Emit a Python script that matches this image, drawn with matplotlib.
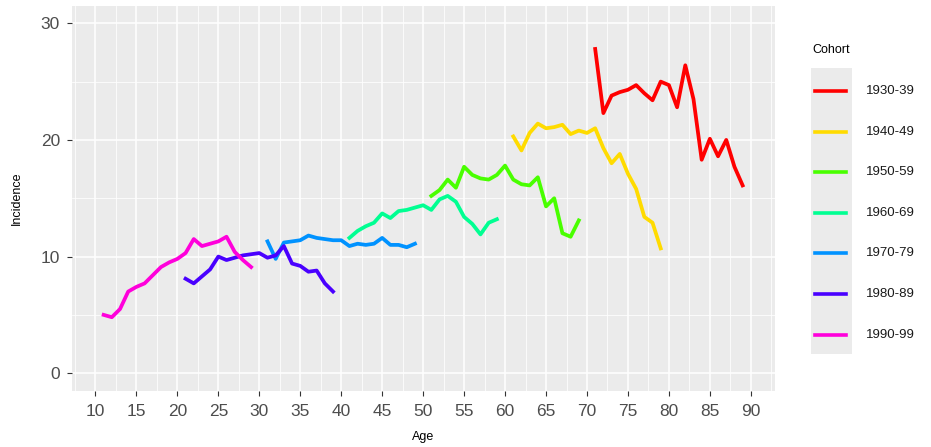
import matplotlib.pyplot as plt
from matplotlib.lines import Line2D
from matplotlib.patches import Rectangle
import numpy as np

plt.rcParams['font.family'] = ['Liberation Sans', 'DejaVu Sans']

cohorts = ['1930-39', '1940-49', '1950-59', '1960-69', '1970-79', '1980-89', '1990-99']
colors = ['#FF0000', '#FFDB00', '#49FF00', '#00FF92', '#0092FF', '#4900FF', '#FF00DB']
start_age = [71, 61, 51, 41, 31, 21, 11]

inc_1930 = [27.8, 22.3, 23.8, 24.1, 24.3, 24.7, 24.0, 23.4, 25.0, 24.7,
            22.8, 26.4, 23.5, 18.3, 20.1, 18.6, 20.0, 17.7, 16.1]
inc_1940 = [20.3, 19.1, 20.6, 21.4, 21.0, 21.1, 21.3, 20.5, 20.8, 20.6,
            21.0, 19.3, 18.0, 18.8, 17.1, 15.8, 13.4, 12.9, 10.7]
inc_1950 = [15.2, 15.7, 16.6, 15.9, 17.7, 17.0, 16.7, 16.6, 17.0, 17.8,
            16.6, 16.2, 16.1, 16.8, 14.3, 15.0, 12.0, 11.7, 13.1]
inc_1960 = [11.6, 12.2, 12.6, 12.9, 13.7, 13.3, 13.9, 14.0, 14.2, 14.4,
            14.0, 14.9, 15.2, 14.7, 13.4, 12.8, 11.9, 12.9, 13.2]
inc_1970 = [11.3, 9.8, 11.2, 11.3, 11.4, 11.8, 11.6, 11.5, 11.4, 11.4,
            10.9, 11.1, 11.0, 11.1, 11.6, 11.0, 11.0, 10.8, 11.1]
inc_1980 = [8.1, 7.7, 8.3, 8.9, 10.0, 9.7, 9.9, 10.1, 10.2, 10.3,
            9.9, 10.1, 10.9, 9.4, 9.2, 8.7, 8.8, 7.7, 7.0]
inc_1990 = [5.0, 4.8, 5.5, 7.0, 7.4, 7.7, 8.4, 9.1, 9.5, 9.8,
            10.3, 11.5, 10.9, 11.1, 11.3, 11.7, 10.4, 9.7, 9.1]
series = [inc_1930, inc_1940, inc_1950, inc_1960, inc_1970, inc_1980, inc_1990]

fig = plt.figure(figsize=(9.31, 4.47), dpi=100)
ax = fig.add_axes([0.077, 0.126, 0.755, 0.861])
ax.set_facecolor('#EBEBEB')

for lab, col, a0, vals in zip(cohorts, colors, start_age, series):
    ages = np.arange(a0, a0 + len(vals))
    ax.plot(ages, vals, color=col, lw=2.7, solid_joinstyle='round', label=lab, zorder=3)

ax.set_xlim(7.1, 92.9)
ax.set_ylim(-1.5, 31.5)
ax.set_xticks(np.arange(10, 91, 5))
ax.set_xticks(np.arange(7.5, 92.6, 5), minor=True)
ax.set_yticks([0, 10, 20, 30])
ax.set_yticks([5, 15, 25], minor=True)
ax.grid(which='major', color='white', lw=1.1)
ax.grid(which='minor', color='white', lw=0.55)
ax.set_axisbelow(True)
for s in ax.spines.values():
    s.set_visible(False)
ax.tick_params(which='major', length=3.5, width=0.8, color='#333333',
               labelsize=12.5, labelcolor='#4D4D4D')
ax.tick_params(axis='x', pad=6)
ax.tick_params(axis='y', pad=5)
ax.tick_params(which='minor', length=0)
ax.set_xlabel('Age', fontsize=9, labelpad=9)
ax.set_ylabel('Incidence', fontsize=9, labelpad=13)

# legend
fig.text(812 / 931, 1 - 50 / 447, 'Cohort', fontsize=9, ha='left', va='center')
fig.add_artist(Rectangle((811 / 931, 1 - 354 / 447), 41 / 931, 286 / 447,
                         transform=fig.transFigure, facecolor='#EBEBEB',
                         edgecolor='none'))
for i, (lab, col) in enumerate(zip(cohorts, colors)):
    yy = 1 - (91 + i * 40.6) / 447
    fig.add_artist(Line2D([815 / 931, 846 / 931], [yy, yy], transform=fig.transFigure,
                          color=col, lw=2.6))
    fig.text(866 / 931, yy, lab, fontsize=9.5, ha='left', va='center', color='#1A1A1A')

fig.savefig('out.png', dpi=100)
